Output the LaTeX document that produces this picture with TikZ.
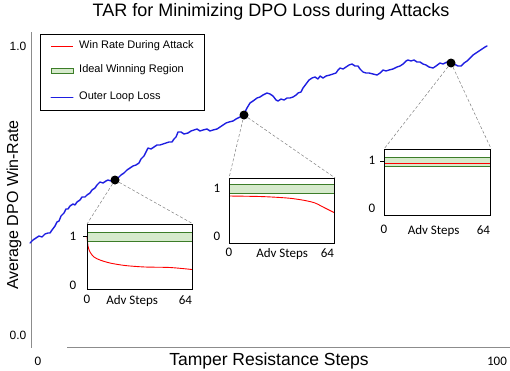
\documentclass[tikz,border=0pt]{standalone}
\usepackage{fontspec}
\setmainfont{Liberation Sans}
\newfontfamily\calib{Carlito}
\usetikzlibrary{calc}
\usetikzlibrary{positioning}
\definecolor{lossblue}{RGB}{30,30,225}
\definecolor{bandfill}{RGB}{214,234,204}
\definecolor{banddark}{RGB}{60,125,40}
\definecolor{axisgray}{RGB}{140,140,140}
\tikzset{
lossline/.style={draw=lossblue, line width=1.4pt, line join=round, line cap=round},
winline/.style={draw=red, line width=0.9pt},
band/.style={fill=bandfill},
bandedge/.style={draw=banddark, line width=1pt},
inset/.style 2 args={draw, line width=1.2pt, minimum width=#1pt, minimum height=#2pt, inner sep=0pt, anchor=north west},
zoomline/.style={draw=gray, densely dashed, line width=0.5pt},
checkpoint/.style={circle, fill=black, minimum size=9pt, inner sep=0pt},
insetlabel/.style={font=\calib\fontsize{13}{14}\selectfont, inner sep=1pt},
axislabel/.style={font=\fontsize{12}{14}\selectfont, inner sep=1pt},
legendtext/.style={font=\fontsize{11}{13}\selectfont, anchor=west, inner sep=0pt},
}

\begin{document}
\begin{tikzpicture}[x=1pt, y=-1pt]
\useasboundingbox (0,0) rectangle (510,370);

%Title and axes
\node (title) at (271,12) {\fontsize{18}{20}\selectfont TAR for Minimizing DPO Loss during Attacks};
\coordinate (ytop) at (31,32);
\coordinate (ybot) at (31,348);
\coordinate (xleft) at (67,347);
\coordinate (xright) at (510,347);
\draw[axisgray, line width=0.8pt] (ytop) -- (ybot);
\draw[axisgray, line width=0.8pt] (xleft) -- (xright);
\node[axislabel] (yone) at (18,46) {1.0};
\node[axislabel] (yzero) at (18,335) {0.0};
\node[insetlabel] (xzero) at (38,361) {0};
\node[insetlabel] (xhundred) at (497,361) {100};
\node (xlabel) at (269,361) {\fontsize{17.5}{20}\selectfont Tamper Resistance Steps};
\node[rotate=90] (ylabel) at (14,205) {\fontsize{16}{18}\selectfont Average DPO Win-Rate};

%Legend
\node[draw, line width=0.8pt, minimum width=164pt, minimum height=76pt, anchor=north west] (legend) at (40,34) {};
\coordinate (l1a) at (51,46);
\coordinate (l1b) at (73,46);
\draw[winline, line width=0.6pt] (l1a) -- (l1b);
\node[legendtext] (l1) at (79,46) {Win Rate During Attack};
\coordinate (l2a) at (51,68);
\coordinate (l2b) at (73,73);
\draw[band, draw=banddark, line width=0.7pt] (l2a) rectangle (l2b);
\node[legendtext] (l2) at (79,70) {Ideal Winning Region};
\coordinate (l3a) at (51,97);
\coordinate (l3b) at (73,97);
\draw[lossline, line width=1pt] (l3a) -- (l3b);
\node[legendtext] (l3) at (79,97) {Outer Loop Loss};

%Outer loop curve
\draw[lossline] plot coordinates {
(30,243) (33,240) (36,238) (39,236) (42,237) (45,234) (48,233) (50,233) (52,230) (55,226)
(57,222) (59,221) (61,216) (64,213) (66,209) (68,209) (70,206) (73,204) (75,205) (77,202)
(80,200) (82,197) (85,197) (87,195) (90,193) (92,190) (95,188) (97,185) (100,182) (103,183)
(106,181) (108,180) (111,181) (115,179) (118,178) (121,175) (124,173) (127,170) (130,168) (133,166)
(136,165) (139,163) (141,159) (144,156) (146,152) (148,148) (151,149) (154,147) (157,145) (160,145)
(163,144) (166,143) (169,142) (172,142) (174,139) (176,137) (178,132) (181,132) (184,134) (188,133)
(191,131) (194,130) (197,129) (200,131) (203,130) (207,129) (210,131) (213,130) (217,129) (220,127)
(223,125) (226,123) (229,122) (233,121) (236,119) (240,117) (244,114) (247,108) (250,103) (253,101)
(257,98) (260,97) (263,95) (267,93) (270,94) (273,96) (276,100) (278,101) (281,99) (284,100)
(287,98) (290,98) (293,97) (296,95) (298,93) (301,92) (303,88) (306,84) (309,80) (312,78)
(315,77) (318,79) (320,76) (323,78) (326,76) (330,75) (333,74) (336,73) (338,70) (340,68)
(343,69) (346,67) (349,65) (352,64) (355,66) (358,66) (360,69) (363,72) (366,73) (369,73)
(373,74) (377,75) (380,73) (383,70) (386,71) (389,70) (393,69) (397,67) (400,66) (403,64)
(406,61) (408,60) (411,61) (414,60) (417,62) (420,62) (423,64) (426,65) (429,67) (433,68)
(436,66) (440,63) (443,64) (447,62) (451,63) (454,64) (458,66) (461,66) (464,63) (467,61)
(470,58) (473,55) (476,53) (479,51) (482,49) (485,47) (487,46)};

%Checkpoints
\node[checkpoint] (c1) at (115,180) {};
\node[checkpoint] (c2) at (244,115) {};
\node[checkpoint] (c3) at (451,63) {};

%Inset 1
\node[inset={105}{65}] (box1) at (87,224) {};
\fill[band] (87,232) rectangle (192,241);
\draw[bandedge] (87,232) -- (192,232);
\draw[bandedge] (87,241) -- (192,241);
\draw[winline] plot[smooth] coordinates {(87,236) (88,246) (90,252) (94,257) (100,260) (110,263) (125,265.5) (145,267) (170,267.5) (192,269.5)};
\node[inset={105}{65}] at (87,224) {};
\draw[line width=0.8pt] (83,236.5) -- (87,236.5);
\node[insetlabel] (one1) at (73,236.5) {1};
\node[insetlabel] (zero1) at (73,285) {0};
\node[insetlabel, below=4pt] (s1) at (box1.south west) {0};
\node[insetlabel, below=4pt, xshift=-8pt] (a1) at (box1.south) {Adv Steps};
\node[insetlabel, below=4pt, anchor=north east] (e1) at (box1.south east) {64};
\draw[zoomline] (c1) -- (box1.north west);
\draw[zoomline] (c1) -- (box1.north east);

%Inset 2
\node[inset={105}{65}] (box2) at (229,178) {};
\fill[band] (229,184) rectangle (334,193);
\draw[bandedge] (229,184) -- (334,184);
\draw[bandedge] (229,193) -- (334,193);
\draw[winline] plot[smooth] coordinates {(229,196) (260,196.5) (280,197.5) (292,198.5) (305,200.5) (315,203) (324,207.5) (334,212.5)};
\node[inset={105}{65}] at (229,178) {};
\node[insetlabel] (one2) at (217,188.5) {1};
\node[insetlabel] (zero2) at (217,236) {0};
\node[insetlabel, below=3pt] (s2) at (box2.south west) {0};
\node[insetlabel, below=3pt] (a2) at (box2.south) {Adv Steps};
\node[insetlabel, below=3pt, anchor=north east] (e2) at (box2.south east) {64};
\draw[zoomline] (c2) -- (box2.north west);
\draw[zoomline] (c2) -- (box2.north east);

%Inset 3
\node[inset={106}{66}] (box3) at (384,149) {};
\fill[band] (384,157) rectangle (490,166);
\draw[bandedge] (384,157) -- (490,157);
\draw[bandedge] (384,166) -- (490,166);
\draw[winline] (384,163) -- (490,163);
\node[inset={106}{66}] at (384,149) {};
\draw[line width=0.8pt] (380,161.5) -- (384,161.5);
\node[insetlabel] (one3) at (372,160) {1};
\node[insetlabel] (zero3) at (372,208) {0};
\node[insetlabel, below=8pt] (s3) at (box3.south west) {0};
\node[insetlabel, below=8pt, xshift=-4pt] (a3) at (box3.south) {Adv Steps};
\node[insetlabel, below=8pt, anchor=north east] (e3) at (box3.south east) {64};
\draw[zoomline] (c3) -- (box3.north west);
\draw[zoomline] (c3) -- (box3.north east);

\end{tikzpicture}
\end{document}
